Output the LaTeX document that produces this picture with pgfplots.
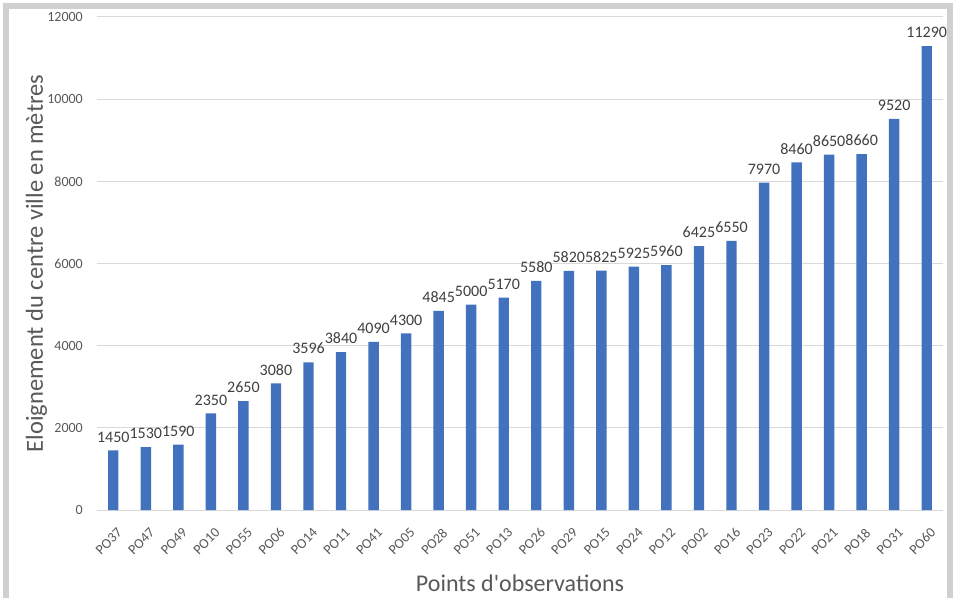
\documentclass[border=0pt]{standalone}
\usepackage{pgfplots}
\pgfplotsset{compat=1.18}
\usepackage{fontspec}
\setmainfont{Carlito}
% same face without the TeX quote mapping, for a straight apostrophe
\newfontfamily\rawfont{Carlito}[Ligatures=TeXOff]

\definecolor{barblue}{RGB}{66,114,190}
\definecolor{gridgray}{RGB}{217,217,217}
\definecolor{ticktext}{RGB}{89,89,89}
\definecolor{labeltext}{RGB}{64,64,64}
\definecolor{framegray}{RGB}{208,208,208}

% category label in the x tick font
\newcommand{\xl}[1]{{\fontsize{14}{16}\selectfont #1}}

\begin{document}
\begin{tikzpicture}
\useasboundingbox (0pt,0pt) rectangle (959pt,598pt);
% chart frame
\fill[white] (0pt,0pt) rectangle (959pt,598pt);
\fill[framegray] (3pt,0pt) rectangle (953pt,595pt);
\fill[white] (9pt,0pt) rectangle (947pt,589pt);

\begin{axis}[
  at={(97pt,88pt)}, anchor=south west,
  scale only axis,
  width=846pt, height=493pt,
  xmin=-0.5, xmax=25.5,
  ymin=0, ymax=12000,
  ytick={0,2000,...,12000},
  xtick=data,
  xticklabels={\xl{PO37},\xl{PO47},\xl{PO49},\xl{PO10},\xl{PO55},\xl{PO06},\xl{PO14},\xl{PO11},\xl{PO41},\xl{PO05},\xl{PO28},\xl{PO51},\xl{PO13},\xl{PO26},\xl{PO29},\xl{PO15},\xl{PO24},\xl{PO12},\xl{PO02},\xl{PO16},\xl{PO23},\xl{PO22},\xl{PO21},\xl{PO18},\xl{PO31},\xl{PO60}},
  scaled y ticks=false,
  /pgf/number format/.cd, fixed, precision=0, 1000 sep={}, assume math mode=true,
  /pgfplots/.cd,
  axis line style={draw=none},
  major tick length=0pt,
  ymajorgrids,
  grid style={gridgray, line width=1pt},
  every tick label/.append style={text=ticktext, inner sep=0pt},
  y tick label style={font=\fontsize{14}{16}\selectfont, anchor=east, xshift=-14pt},
  x tick label style={font=\fontsize{14}{16}\selectfont, xshift=6.6pt, yshift=-20.5pt, rotate=45, anchor=east},
  every axis y label/.style={at={(rel axis cs:0,0.5)}, xshift=-54pt, rotate=90, anchor=base, font=\fontsize{24.5}{27}\selectfont, text=ticktext},
  every axis x label/.style={at={(rel axis cs:0.5,0)}, yshift=-81pt, anchor=base, font=\fontsize{24}{27}\selectfont, text=ticktext},
  ylabel={Eloignement du centre ville en mètres},
  xlabel={Points d{\rawfont'}observations},
  ybar, bar width=0.32,
  nodes near coords,
  every node near coord/.append style={font=\fontsize{16}{18}\selectfont, text=labeltext, inner sep=0pt, anchor=south, yshift=8pt},
  clip=false,
]
\addplot[fill=barblue, draw=none] coordinates {
  (0,1450) (1,1530) (2,1590) (3,2350) (4,2650) (5,3080) (6,3596)
  (7,3840) (8,4090) (9,4300) (10,4845) (11,5000) (12,5170) (13,5580)
  (14,5820) (15,5825) (16,5925) (17,5960) (18,6425) (19,6550)
  (20,7970) (21,8460) (22,8650) (23,8660) (24,9520) (25,11290)
};
\end{axis}
\end{tikzpicture}
\end{document}
